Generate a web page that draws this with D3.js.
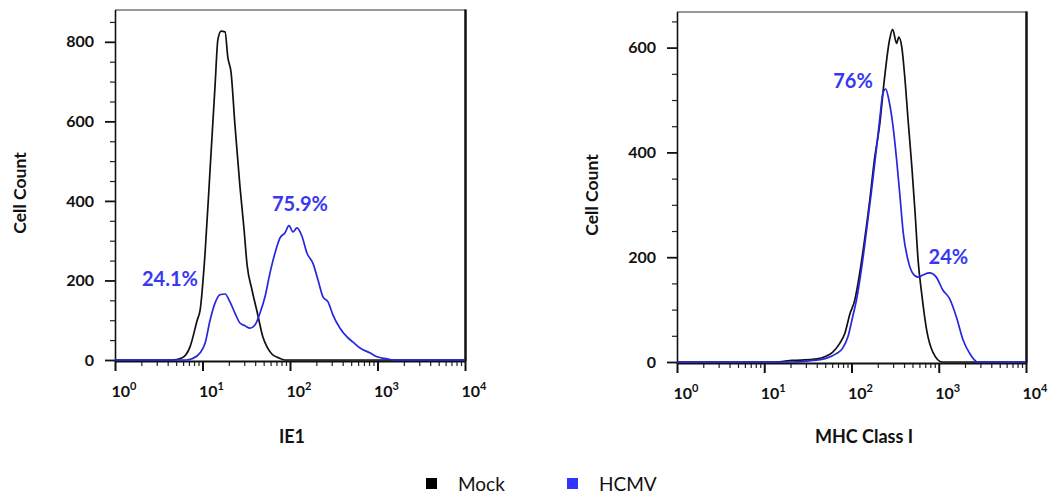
<!DOCTYPE html>
<html>
<head>
<meta charset="utf-8">
<script src="https://cdn.jsdelivr.net/npm/d3@7/dist/d3.min.js"></script>
<style>
  html, body { margin: 0; padding: 0; background: #fff; }
  svg { display: block; font-family: Lato, "Open Sans", sans-serif; }
</style>
</head>
<body>
<svg id="chart" width="1051" height="496"></svg>
<script>
// ---------------- DATA ----------------
const seriesNames = ["Mock", "HCMV"];
const xTickValues = [1, 10, 100, 1000, 10000];
const xTickExponents = ["0", "1", "2", "3", "4"];

// IE1 panel
const ie1MockX = [1, 4.5, 5.8, 7.2, 8.7, 9.4, 10.7, 12.2, 13.9, 15.0, 16.3, 18.1, 19.5, 21.2, 23.5, 26.8, 29.8, 32.3, 36.8, 42, 49, 54.6, 62, 73, 88, 10000];
const ie1MockY = [0, 0, 5, 33, 100, 126, 269, 478, 688, 806, 827, 825, 760, 723, 590, 436, 330, 240, 176, 122, 58, 33, 15, 6, 0, 0];
const ie1HcmvX = [1, 6.5, 7.6, 9.4, 10.7, 12.2, 13.9, 15.8, 18.1, 20.6, 23.5, 26.8, 30.6, 34.9, 39.8, 45.4, 51.8, 59.1, 67.4, 76.9, 87.7, 97.4, 108, 120, 137, 156, 183, 209, 238, 272, 310, 373, 448, 525, 631, 820, 987, 1284, 1504, 10000];
const ie1HcmvY = [0, 0, 3, 18, 42, 100, 143, 164, 166, 146, 118, 93, 86, 80, 88, 118, 159, 219, 269, 307, 320, 338, 322, 332, 311, 269, 243, 201, 159, 146, 113, 80, 58, 45, 30, 18, 8, 3, 0, 0];
const ie1YMax = 880;
const ie1YMajor = [0, 200, 400, 600, 800];
const ie1Labels = [{text: "24.1%", x: 4.25, y: 186}, {text: "75.9%", x: 130, y: 375}];

// MHC Class I panel
const mhcMockX = [1, 13, 21, 36, 51, 61, 73, 84, 96, 109, 124, 141, 162, 183, 209, 238, 273, 296, 329, 348, 377, 408, 445, 492, 536, 580, 637, 727, 856, 1096, 10000];
const mhcMockY = [0, 0, 3, 5, 11, 19, 35, 55, 92, 118, 169, 232, 309, 386, 449, 539, 615, 635, 608, 620, 601, 544, 462, 372, 284, 194, 131, 61, 19, 0, 0];
const mhcHcmvX = [1, 21, 36, 51, 67, 79, 91, 103, 114, 131, 149, 170, 194, 212, 229, 247, 268, 296, 329, 360, 392, 445, 505, 580, 659, 783, 937, 1117, 1330, 1593, 1900, 2270, 2800, 10000];
const mhcHcmvY = [0, 0, 3, 7, 16, 26, 48, 86, 118, 181, 252, 328, 410, 468, 513, 521, 500, 456, 386, 315, 246, 194, 169, 162, 166, 170, 162, 137, 121, 86, 42, 16, 0, 0];
const mhcYMax = 668;
const mhcYMajor = [0, 200, 400, 600];
const mhcLabels = [{text: "76%", x: 104, y: 523}, {text: "24%", x: 1290, y: 187}];

const axisTitlesX = ["IE1", "MHC Class I"];
const axisTitleY = "Cell Count";

// ---------------- STYLE / LAYOUT ----------------
const colors = {Mock: "#111111", HCMV: "#2626e0"};
const legendColors = {Mock: "#000000", HCMV: "#3333ff"};
const labelColor = "#3838f0";

const panels = [
  {x0: 115, x1: 465, yTop: 10, yBot: 360, yMax: ie1YMax, major: ie1YMajor,
   mock: [ie1MockX, ie1MockY], hcmv: [ie1HcmvX, ie1HcmvY], labels: ie1Labels,
   title: axisTitlesX[0], titleX: 292, yTitleX: 20},
  {x0: 677, x1: 1026, yTop: 12, yBot: 362, yMax: mhcYMax, major: mhcYMajor,
   mock: [mhcMockX, mhcMockY], hcmv: [mhcHcmvX, mhcHcmvY], labels: mhcLabels,
   title: axisTitlesX[1], titleX: 864, yTitleX: 592}
];

const svg = d3.select("#chart");

panels.forEach(p => {
  const x = d3.scaleLog().domain([1, 10000]).range([p.x0, p.x1]);
  const y = d3.scaleLinear().domain([0, p.yMax]).range([p.yBot, p.yTop]);
  const g = svg.append("g");

  // frame (top + right)
  g.append("line").attr("x1", p.x0).attr("x2", p.x1 + 1).attr("y1", p.yTop).attr("y2", p.yTop)
    .attr("stroke", "#333").attr("stroke-width", 1);
  g.append("line").attr("x1", p.x1 + 0.5).attr("x2", p.x1 + 0.5).attr("y1", p.yTop - 0.5).attr("y2", p.yBot + 1)
    .attr("stroke", "#111").attr("stroke-width", 2.5);

  // Y axis minor
  const minorY = d3.range(0, p.yMax, 50).filter(v => p.major.indexOf(v) < 0);
  g.append("g").attr("transform", `translate(${p.x0},0)`)
    .call(d3.axisLeft(y).tickValues(minorY).tickSize(5).tickSizeOuter(0).tickFormat(""))
    .call(a => a.select(".domain").remove())
    .call(a => a.selectAll(".tick line").attr("stroke", "#222").attr("stroke-width", 1.2));
  // Y axis major
  const ya = g.append("g").attr("transform", `translate(${p.x0},0)`)
    .call(d3.axisLeft(y).tickValues(p.major).tickSize(10).tickSizeOuter(0).tickPadding(11).tickFormat(d3.format("d")));
  ya.select(".domain").attr("stroke", "#111").attr("stroke-width", 1.6)
    .attr("d", `M0.5,${p.yTop}V${p.yBot + 1}`);
  ya.selectAll(".tick line").attr("stroke", "#111").attr("stroke-width", 1.8);
  ya.selectAll(".tick text").attr("font-size", 16).attr("font-weight", "bold").attr("fill", "#111")
    .attr("font-family", "Lato, 'Open Sans', sans-serif");

  // X axis minor
  const minorX = [];
  for (let d = 1; d < 10000; d *= 10) for (let k = 2; k <= 9; k++) minorX.push(d * k);
  const xAxisY = p.yBot + 1;
  g.append("g").attr("transform", `translate(0,${xAxisY})`)
    .call(d3.axisBottom(x).tickValues(minorX).tickSize(5).tickSizeOuter(0).tickFormat(""))
    .call(a => a.select(".domain").remove())
    .call(a => a.selectAll(".tick line").attr("stroke", "#222").attr("stroke-width", 1.2));
  const xa = g.append("g").attr("transform", `translate(0,${xAxisY})`)
    .call(d3.axisBottom(x).tickValues(xTickValues).tickSize(10).tickSizeOuter(0).tickFormat(""));
  xa.select(".domain").attr("stroke", "#111").attr("stroke-width", 2)
    .attr("d", `M${p.x0},0.5H${p.x1 + 1}`);
  xa.selectAll(".tick line").attr("stroke", "#111").attr("stroke-width", 2);
  xa.selectAll(".tick").each(function(d, i) {
    const t = d3.select(this).select("text")
      .attr("text-anchor", "start").attr("x", -4).attr("y", 0).attr("dy", null)
      .attr("transform", "translate(0,36)")
      .attr("font-size", 16).attr("font-weight", "bold").attr("fill", "#111")
      .attr("font-family", "Lato, 'Open Sans', sans-serif").text(null);
    t.append("tspan").text("10");
    t.append("tspan").attr("font-size", 11).attr("dy", -7).text(xTickExponents[i]);
  });

  // curves
  const line = d3.line().x(d => x(d[0])).y(d => y(d[1])).curve(d3.curveMonotoneX);
  const mockPts = p.mock[0].map((v, i) => [v, p.mock[1][i]]);
  const hcmvPts = p.hcmv[0].map((v, i) => [v, p.hcmv[1][i]]);
  g.append("path").datum(mockPts).attr("d", line).attr("fill", "none")
    .attr("stroke", colors.Mock).attr("stroke-width", 1.7).attr("stroke-linejoin", "round");
  g.append("path").datum(hcmvPts).attr("d", line).attr("fill", "none")
    .attr("stroke", colors.HCMV).attr("stroke-width", 1.7).attr("stroke-linejoin", "round");

  // percentage labels
  p.labels.forEach(l => {
    g.append("text").attr("x", x(l.x)).attr("y", y(l.y)).attr("text-anchor", "middle")
      .attr("font-size", 20).attr("font-weight", "bold").attr("fill", labelColor).text(l.text);
  });

  // axis titles
  g.append("text").attr("x", p.titleX).attr("y", 443).attr("text-anchor", "middle")
    .attr("font-size", 18).attr("font-weight", "bold").attr("fill", "#111").text(p.title);
  g.append("text").attr("transform", `translate(${p.yTitleX + 6},${(p.yTop + p.yBot) / 2 + 8}) rotate(-90)`)
    .attr("text-anchor", "middle").attr("font-size", 17.5).attr("font-weight", "bold").attr("fill", "#111")
    .text(axisTitleY);
});

// legend
const legendX = [426, 567];
seriesNames.forEach((s, i) => {
  svg.append("rect").attr("x", legendX[i]).attr("y", 478).attr("width", 11).attr("height", 11)
    .attr("fill", legendColors[s]);
  svg.append("text").attr("x", legendX[i] + 32).attr("y", 491).attr("font-size", 19)
    .attr("fill", "#111").text(s);
});
</script>
</body>
</html>
